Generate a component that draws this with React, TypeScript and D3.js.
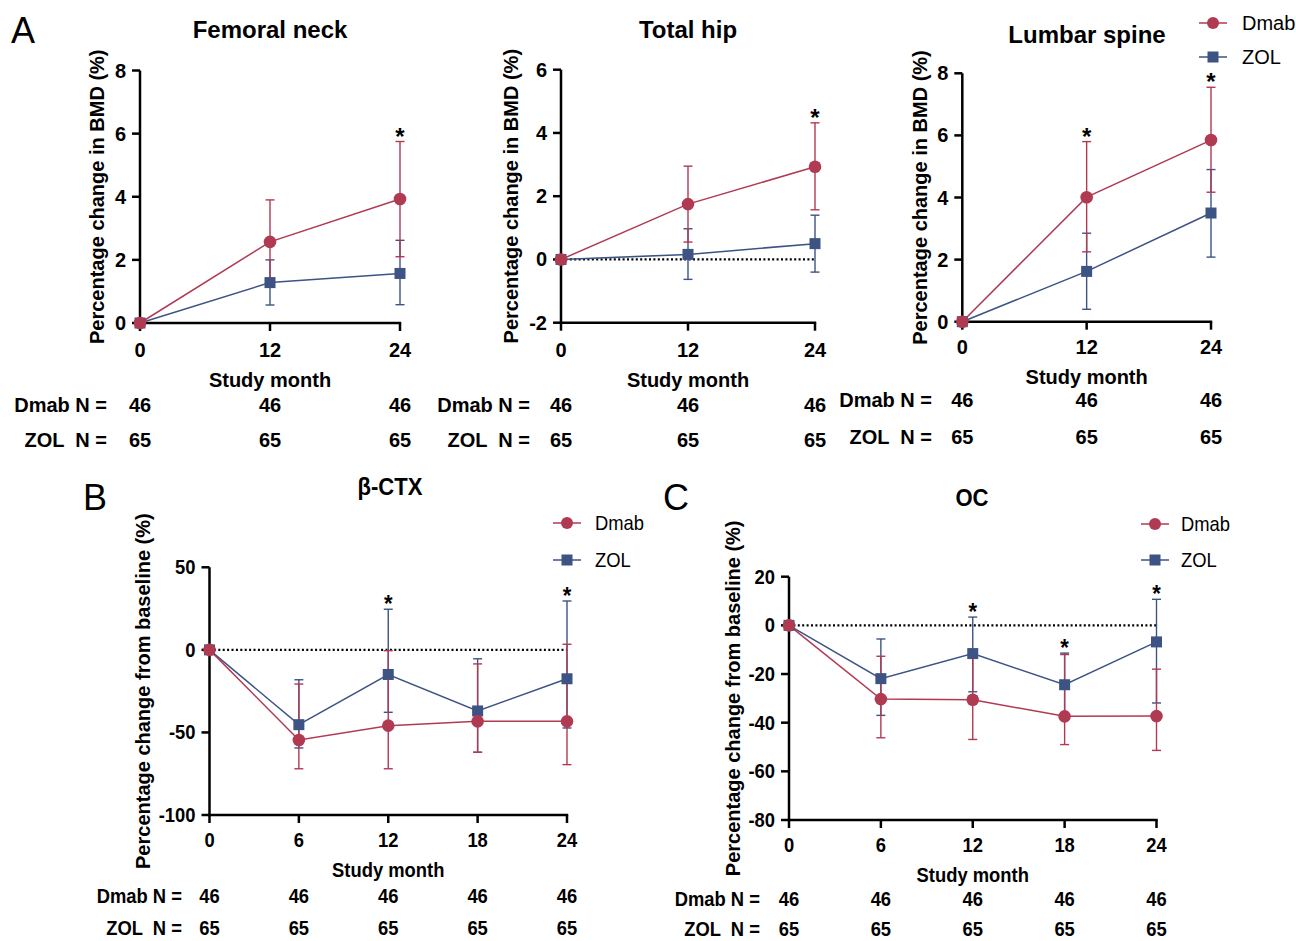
import React from 'react';
import * as d3 from 'd3';

const red = '#B13A53';
const blue = '#3D5384';
const font = '"Liberation Sans", Arial, Helvetica, sans-serif';

// x values
const bmdMonths = [0, 12, 24];
const markerMonths = [0, 6, 12, 18, 24];

// sample sizes
const dmabN = [46, 46, 46, 46, 46];
const zolN = [65, 65, 65, 65, 65];

// Femoral neck BMD (% change)
const fnDmab = [0, 2.57, 3.93];
const fnDmabLo = [0, 1.2, 2.1];
const fnDmabHi = [0, 3.9, 5.75];
const fnZol = [0, 1.28, 1.57];
const fnZolLo = [0, 0.57, 0.58];
const fnZolHi = [0, 2.0, 2.62];
const fnStars = [24];

// Total hip BMD
const thDmab = [0, 1.75, 2.93];
const thDmabLo = [0, 0.55, 1.57];
const thDmabHi = [0, 2.95, 4.32];
const thZol = [0, 0.16, 0.5];
const thZolLo = [0, -0.63, -0.4];
const thZolHi = [0, 0.97, 1.4];
const thStars = [24];

// Lumbar spine BMD
const lsDmab = [0, 4.01, 5.85];
const lsDmabLo = [0, 2.25, 4.17];
const lsDmabHi = [0, 5.8, 7.55];
const lsZol = [0, 1.62, 3.5];
const lsZolLo = [0, 0.4, 2.08];
const lsZolHi = [0, 2.85, 4.9];
const lsStars = [12, 24];

// beta-CTX
const ctxDmab = [0, -54.6, -45.9, -43.3, -43.3];
const ctxDmabLo = [0, -72, -72, -62, -69.5];
const ctxDmabHi = [0, -20.7, -0.5, -8.5, 3.4];
const ctxZol = [0, -45.3, -14.9, -37, -17.5];
const ctxZolLo = [0, -59.4, -37.8, -62, -47.3];
const ctxZolHi = [0, -18.1, 24.6, -5.4, 29.6];
const ctxStars = [12, 24];

// OC
const ocDmab = [0, -30.3, -30.6, -37.4, -37.3];
const ocDmabLo = [0, -46.2, -46.9, -49, -51.4];
const ocDmabHi = [0, -12.7, -12.0, -12, -18];
const ocZol = [0, -21.9, -11.6, -24.4, -6.8];
const ocZolLo = [0, -37, -27.3, -37.5, -31.9];
const ocZolHi = [0, -5.6, 3.4, -11.4, 10.7];
const ocStars = [12, 18, 24];

// tick labels
const bmdTicks8 = [0, 2, 4, 6, 8];
const bmdTicksHip = [-2, 0, 2, 4, 6];
const ctxTicks = [-100, -50, 0, 50];
const ocTicks = [-80, -60, -40, -20, 0, 20];

function T({ x, y, sx = 1, anchor = 'middle', size = 20, weight = 'bold', rotate = 0, children }) {
  return (
    <text
      transform={`translate(${x},${y}) rotate(${rotate}) scale(${sx},1)`}
      textAnchor={anchor}
      fontSize={size}
      fontWeight={weight}
      fontFamily={font}
      fill="#000"
      style={{ whiteSpace: 'pre' }}
    >
      {children}
    </text>
  );
}

function Panel(p) {
  const x = d3.scaleLinear().domain([0, 24]).range(p.xr);
  const y = d3.scaleLinear().domain(p.domain).range([p.yr[1], p.yr[0]]);
  const line = d3.line().x(d => x(d[0])).y(d => y(d[1]));
  const sx = p.sx || 1;
  const cap = 4.5;

  const bars = (lo, hi, col) =>
    p.months.map((m, i) => (
      i === 0 ? null :
      <g key={'e' + col + i} stroke={col} strokeWidth={1.4}>
        <line x1={x(m)} x2={x(m)} y1={y(lo[i])} y2={y(hi[i])} />
        <line x1={x(m) - cap} x2={x(m) + cap} y1={y(lo[i])} y2={y(lo[i])} />
        <line x1={x(m) - cap} x2={x(m) + cap} y1={y(hi[i])} y2={y(hi[i])} />
      </g>
    ));

  const x0 = p.xr[0];
  const yb = p.yr[1];

  return (
    <g>
      <T x={p.titleX} y={p.titleY} size={p.titleSize || 24} sx={sx}>{p.title}</T>
      <T x={p.yLabelX} y={(p.yr[0] + p.yr[1]) / 2} rotate={-90}>{p.yLabel}</T>

      {p.zeroLine && (
        <line x1={x(0)} x2={x(24)} y1={y(0)} y2={y(0)} stroke="#000" strokeWidth={2.3}
          strokeDasharray="2 2.4" />
      )}

      {/* axes */}
      <line x1={x0} x2={x0} y1={p.yr[0]} y2={yb + 1.2} stroke="#000" strokeWidth={2.5} />
      <line x1={x0 - 1.2} x2={p.xr[1] + 1.2} y1={yb} y2={yb} stroke="#000" strokeWidth={2.5} />
      {p.yTicks.map(t => (
        <g key={'yt' + t}>
          <line x1={x0 - 8} x2={x0} y1={y(t)} y2={y(t)} stroke="#000" strokeWidth={2.5} />
          <T x={x0 - 14} y={y(t) + 7} anchor="end" sx={sx}>{String(t)}</T>
        </g>
      ))}
      {p.months.map((m, i) => (
        <g key={'xt' + m}>
          <line x1={x(m)} x2={x(m)} y1={yb} y2={yb + 8} stroke="#000" strokeWidth={2.5} />
          <T x={x(m)} y={p.xTickY} sx={sx}>{String(m)}</T>
          <T x={x(m)} y={p.row1Y} sx={sx}>{String(dmabN[i])}</T>
          <T x={x(m)} y={p.row2Y} sx={sx}>{String(zolN[i])}</T>
        </g>
      ))}
      <T x={x(12)} y={p.studyY} sx={sx}>Study month</T>
      <T x={p.rowLabelX} y={p.row1Y} anchor="end" sx={sx}>Dmab N =</T>
      <T x={p.rowLabelX} y={p.row2Y} anchor="end" sx={sx}>{'ZOL  N ='}</T>

      {/* error bars */}
      {bars(p.zolLo, p.zolHi, blue)}
      {bars(p.dmabLo, p.dmabHi, red)}

      {/* lines */}
      <path d={line(p.months.map((m, i) => [m, p.zol[i]]))} fill="none" stroke={blue} strokeWidth={1.5} />
      <path d={line(p.months.map((m, i) => [m, p.dmab[i]]))} fill="none" stroke={red} strokeWidth={1.5} />

      {/* markers */}
      {p.months.map((m, i) => (
        <rect key={'sq' + m} x={x(m) - 5.5} y={y(p.zol[i]) - 5.5} width={11} height={11} fill={blue} />
      ))}
      {p.months.map((m, i) => (
        <circle key={'ci' + m} cx={x(m)} cy={y(p.dmab[i])} r={6.3} fill={red} />
      ))}

      {/* significance */}
      {p.stars.map(m => {
        const i = p.months.indexOf(m);
        const top = Math.max(p.dmabHi[i], p.zolHi[i]);
        return <T key={'st' + m} x={x(m)} y={y(top) + 3} size={24} sx={sx}>*</T>;
      })}
    </g>
  );
}

function Legend({ x, y1, y2, textX, sx = 1 }) {
  return (
    <g>
      <line x1={x - 14} x2={x + 14} y1={y1} y2={y1} stroke={red} strokeWidth={1.5} />
      <circle cx={x} cy={y1} r={6} fill={red} />
      <T x={textX} y={y1 + 7} anchor="start" weight="normal" sx={sx}>Dmab</T>
      <line x1={x - 14} x2={x + 14} y1={y2} y2={y2} stroke={blue} strokeWidth={1.5} />
      <rect x={x - 5.5} y={y2 - 5.5} width={11} height={11} fill={blue} />
      <T x={textX} y={y2 + 7} anchor="start" weight="normal" sx={sx}>ZOL</T>
    </g>
  );
}

export default function App() {
  const bmdLabel = 'Percentage change in BMD (%)';
  const bslLabel = 'Percentage change from baseline (%)';
  return (
    <svg width={1296} height={941} style={{ position: 'absolute', left: 0, top: 0, background: '#fff' }}>
      <rect width={1296} height={941} fill="#fff" />
      <T x={11} y={43} size={36} weight="normal" anchor="start">A</T>
      <T x={83} y={510} size={36} weight="normal" anchor="start">B</T>
      <T x={663} y={510} size={36} weight="normal" anchor="start">C</T>

      <Panel title="Femoral neck" titleX={270} titleY={38} xr={[140, 400]} yr={[70.5, 323]}
        domain={[0, 8]} yTicks={bmdTicks8} months={bmdMonths}
        dmab={fnDmab} dmabLo={fnDmabLo} dmabHi={fnDmabHi}
        zol={fnZol} zolLo={fnZolLo} zolHi={fnZolHi} stars={fnStars}
        yLabel={bmdLabel} yLabelX={104} xTickY={357} studyY={387} row1Y={412} row2Y={447} rowLabelX={107} />

      <Panel title="Total hip" titleX={688} titleY={38} xr={[561, 815]} yr={[69.7, 322.7]}
        domain={[-2, 6]} yTicks={bmdTicksHip} months={bmdMonths} zeroLine
        dmab={thDmab} dmabLo={thDmabLo} dmabHi={thDmabHi}
        zol={thZol} zolLo={thZolLo} zolHi={thZolHi} stars={thStars}
        yLabel={bmdLabel} yLabelX={518} xTickY={357} studyY={387} row1Y={412} row2Y={447} rowLabelX={530} />

      <Panel title="Lumbar spine" titleX={1087} titleY={43} xr={[962.3, 1211]} yr={[73.3, 321.7]}
        domain={[0, 8]} yTicks={bmdTicks8} months={bmdMonths}
        dmab={lsDmab} dmabLo={lsDmabLo} dmabHi={lsDmabHi}
        zol={lsZol} zolLo={lsZolLo} zolHi={lsZolHi} stars={lsStars}
        yLabel={bmdLabel} yLabelX={927} xTickY={354} studyY={384} row1Y={407} row2Y={444} rowLabelX={932} />
      <Legend x={1213} y1={23} y2={57} textX={1242} />

      <Panel title="β-CTX" titleX={390} titleY={495} xr={[209.5, 567]} yr={[567.3, 815]}
        domain={[-100, 50]} yTicks={ctxTicks} months={markerMonths} zeroLine sx={0.92}
        dmab={ctxDmab} dmabLo={ctxDmabLo} dmabHi={ctxDmabHi}
        zol={ctxZol} zolLo={ctxZolLo} zolHi={ctxZolHi} stars={ctxStars}
        yLabel={bslLabel} yLabelX={150} xTickY={847} studyY={877} row1Y={903} row2Y={935} rowLabelX={182} />
      <Legend x={567} y1={523} y2={560} textX={595} sx={0.92} />

      <Panel title="OC" titleX={972} titleY={506} xr={[789, 1156.5]} yr={[576.7, 820]}
        domain={[-80, 20]} yTicks={ocTicks} months={markerMonths} zeroLine sx={0.92}
        dmab={ocDmab} dmabLo={ocDmabLo} dmabHi={ocDmabHi}
        zol={ocZol} zolLo={ocZolLo} zolHi={ocZolHi} stars={ocStars}
        yLabel={bslLabel} yLabelX={740} xTickY={852} studyY={882} row1Y={906} row2Y={936} rowLabelX={760} />
      <Legend x={1155} y1={524} y2={560} textX={1181} sx={0.92} />
    </svg>
  );
}
